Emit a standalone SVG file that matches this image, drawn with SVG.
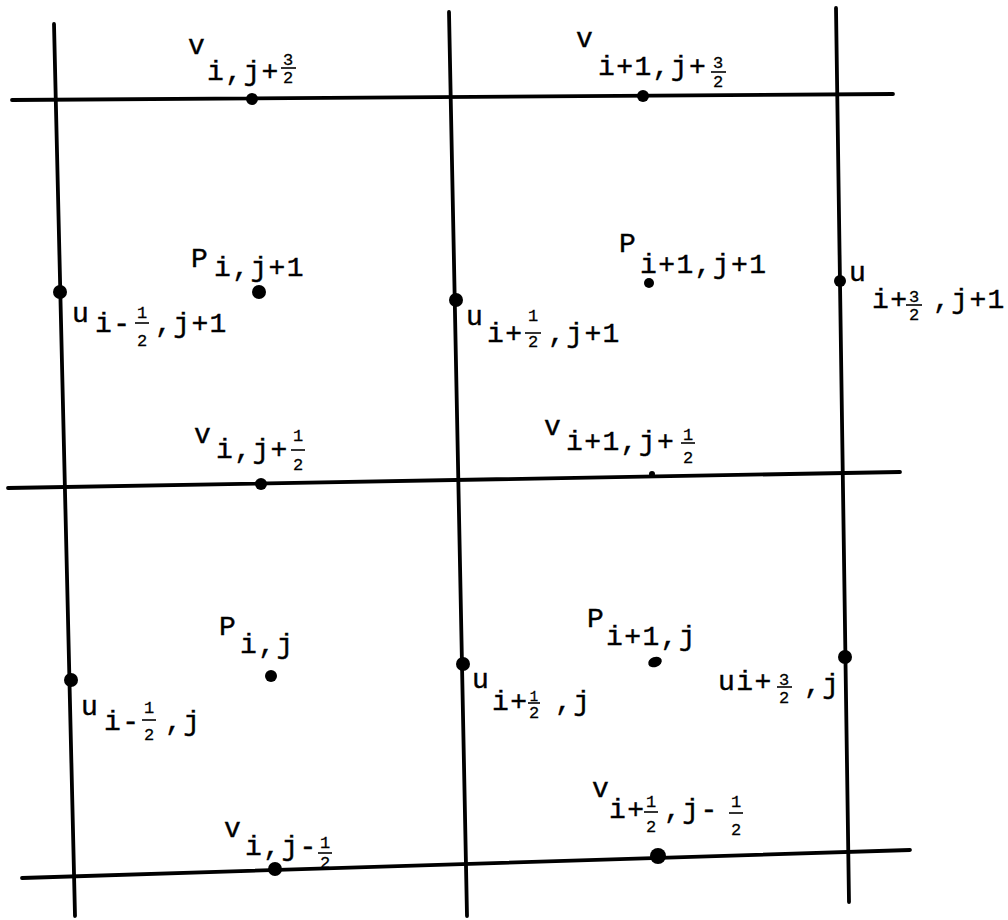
<svg xmlns="http://www.w3.org/2000/svg" width="1008" height="920" viewBox="0 0 1008 920">
<style>
.t{font-family:"Liberation Mono","Courier New",monospace;font-size:28px;fill:#000;stroke:#000;stroke-width:0.4;letter-spacing:1.4px}
.f{font-family:"Liberation Mono","Courier New",monospace;font-size:17px;fill:#000;stroke:#000;stroke-width:0.3;text-anchor:middle}
.fb{stroke:#000;stroke-width:1.6}
.g{stroke:#000;stroke-width:3.8;fill:none;stroke-linecap:round}
.d{fill:#000}
</style>
<rect width="1008" height="920" fill="#fff"/>
<g id="connectors">
<line class="g" x1="54" y1="24" x2="75" y2="916"/>
<line class="g" x1="449" y1="12" x2="467" y2="916"/>
<line class="g" x1="836" y1="8" x2="849" y2="902"/>
<line class="g" x1="12" y1="100" x2="893" y2="94"/>
<line class="g" x1="8" y1="488" x2="900" y2="472"/>
<line class="g" x1="22" y1="878" x2="910" y2="850"/>
</g>
<g id="v_i_j32">
<circle class="d" cx="252" cy="99" r="6"/>
<text class="t" x="188" y="54">v</text>
<text class="t" x="207" y="80">i,j+</text>
<text class="f"><tspan x="288" y="65">3</tspan><tspan x="288" y="83">2</tspan></text><line class="fb" x1="281" y1="68" x2="296" y2="68"/>
</g>
<g id="v_i1_j32">
<circle class="d" cx="643" cy="96" r="6"/>
<text class="t" x="576" y="47">v</text>
<text class="t" x="598" y="75">i+1,j+</text>
<text class="f"><tspan x="718" y="68">3</tspan><tspan x="718" y="87">2</tspan></text><line class="fb" x1="711" y1="72" x2="726" y2="72"/>
</g>
<g id="p_i_j1">
<circle class="d" cx="259" cy="292" r="7"/>
<text class="t" x="191" y="267">P</text>
<text class="t" x="214" y="276">i,j+1</text>
</g>
<g id="u_im_j1">
<circle class="d" cx="60" cy="292" r="7"/>
<text class="t" x="72" y="322">u</text>
<text class="t" x="95" y="332">i-</text>
<text class="f"><tspan x="142" y="318">1</tspan><tspan x="142" y="346">2</tspan></text><line class="fb" x1="135" y1="323" x2="149" y2="323"/>
<text class="t" x="155" y="332">,j+1</text>
</g>
<g id="u_ip_j1">
<circle class="d" cx="456" cy="300" r="7"/>
<text class="t" x="466" y="325">u</text>
<text class="t" x="487" y="342">i+</text>
<text class="f"><tspan x="533" y="321">1</tspan><tspan x="533" y="347">2</tspan></text><line class="fb" x1="525" y1="333" x2="541" y2="333"/>
<text class="t" x="548" y="342">,j+1</text>
</g>
<g id="p_i1_j1">
<circle class="d" cx="649" cy="283" r="5"/>
<text class="t" x="619" y="252">P</text>
<text class="t" x="640" y="273">i+1,j+1</text>
</g>
<g id="u_i32_j1">
<circle class="d" cx="840" cy="281" r="6"/>
<text class="t" x="849" y="281">u</text>
<text class="t" x="872" y="308">i+</text>
<text class="f"><tspan x="914" y="302">3</tspan><tspan x="914" y="320">2</tspan></text><line class="fb" x1="906" y1="305" x2="922" y2="305"/>
<text class="t" x="933" y="308">,j+1</text>
</g>
<g id="v_i_j12">
<circle class="d" cx="261" cy="484" r="6"/>
<text class="t" x="194" y="443">v</text>
<text class="t" x="216" y="458">i,j+</text>
<text class="f"><tspan x="298" y="441">1</tspan><tspan x="298" y="470">2</tspan></text><line class="fb" x1="291" y1="450" x2="305" y2="450"/>
</g>
<g id="v_i1_j12">
<circle class="d" cx="652" cy="474" r="3"/>
<text class="t" x="544" y="435">v</text>
<text class="t" x="566" y="450">i+1,j+</text>
<text class="f"><tspan x="688" y="440">1</tspan><tspan x="688" y="463">2</tspan></text><line class="fb" x1="681" y1="443" x2="695" y2="443"/>
</g>
<g id="p_i_j">
<circle class="d" cx="271" cy="676" r="6"/>
<text class="t" x="219" y="635">P</text>
<text class="t" x="240" y="653">i,j</text>
</g>
<g id="u_im_j">
<circle class="d" cx="71" cy="680" r="7"/>
<text class="t" x="81" y="715">u</text>
<text class="t" x="104" y="730">i-</text>
<text class="f"><tspan x="149" y="713">1</tspan><tspan x="149" y="740">2</tspan></text><line class="fb" x1="142" y1="720" x2="156" y2="720"/>
<text class="t" x="165" y="730">,j</text>
</g>
<g id="u_ip_j">
<circle class="d" cx="463" cy="664" r="7"/>
<text class="t" x="472" y="688">u</text>
<text class="t" x="492" y="710">i+</text>
<text class="f"><tspan x="534" y="701" style="font-size:14px">1</tspan><tspan x="534" y="718">2</tspan></text><line class="fb" x1="528" y1="703" x2="540" y2="703"/>
<text class="t" x="555" y="710">,j</text>
</g>
<g id="p_i1_j">
<ellipse class="d" cx="655" cy="662" rx="7" ry="5" transform="rotate(-20 655 662)"/>
<text class="t" x="587" y="627">P</text>
<text class="t" x="606" y="645">i+1,j</text>
</g>
<g id="u_i32_j">
<circle class="d" cx="845" cy="657" r="7"/>
<text class="t" x="718" y="690">ui+</text>
<text class="f"><tspan x="784" y="685">3</tspan><tspan x="784" y="703">2</tspan></text><line class="fb" x1="777" y1="687" x2="792" y2="687"/>
<text class="t" x="804" y="693">,j</text>
</g>
<g id="v_i_jm">
<circle class="d" cx="275" cy="869" r="7"/>
<text class="t" x="224" y="837">v</text>
<text class="t" x="245" y="855">i,j-</text>
<text class="f"><tspan x="325" y="848">1</tspan><tspan x="325" y="868">2</tspan></text><line class="fb" x1="318" y1="853" x2="332" y2="853"/>
</g>
<g id="v_ip_jm">
<circle class="d" cx="658" cy="856" r="8"/>
<text class="t" x="592" y="797">v</text>
<text class="t" x="609" y="818">i+</text>
<text class="f"><tspan x="651" y="807">1</tspan><tspan x="651" y="832">2</tspan></text><line class="fb" x1="644" y1="812" x2="658" y2="812"/>
<text class="t" x="664" y="818">,j-</text>
<text class="f"><tspan x="736" y="807">1</tspan><tspan x="736" y="835">2</tspan></text><line class="fb" x1="729" y1="813" x2="743" y2="813"/>
</g>
</svg>
